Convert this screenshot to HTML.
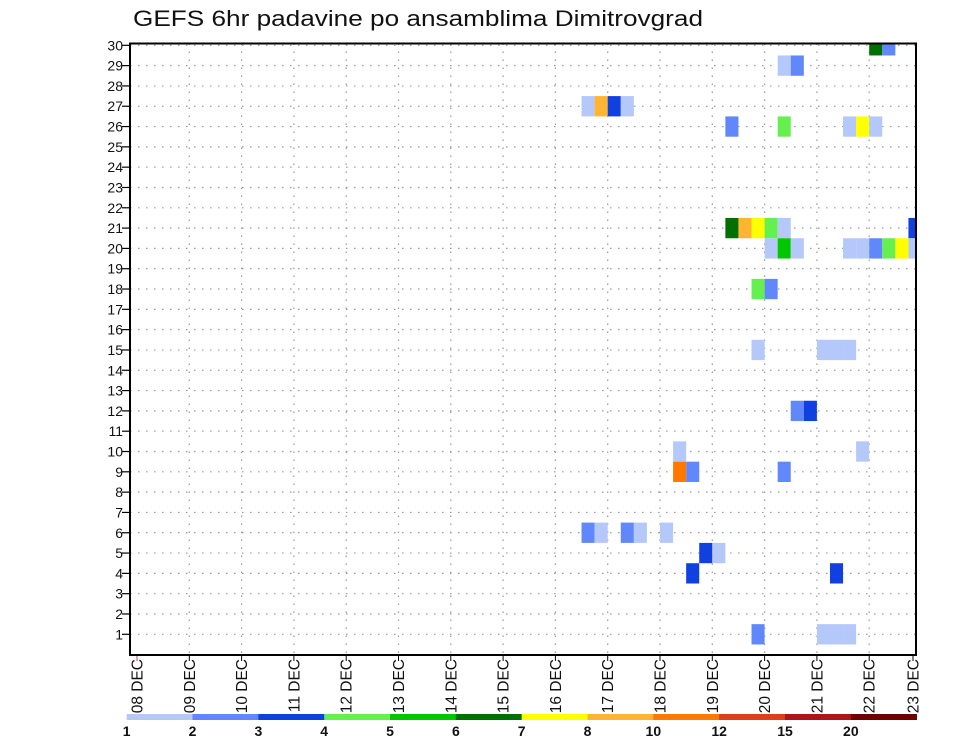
<!DOCTYPE html>
<html><head><meta charset="utf-8"><style>
html,body{margin:0;padding:0;background:#fff;}
svg{display:block;font-family:"Liberation Sans",sans-serif;}
</style></head><body>
<svg id="chart" width="960" height="742" viewBox="0 0 960 742" xmlns="http://www.w3.org/2000/svg">
<text x="133" y="26" font-size="22" textLength="570" lengthAdjust="spacingAndGlyphs" fill="#111">GEFS 6hr padavine po ansamblima Dimitrovgrad</text>
<g id="grid"></g>
<g id="cells"></g>
<g id="axes"></g>
<g id="legend"></g>
</svg>
<script>
const members = [1,2,3,4,5,6,7,8,9,10,11,12,13,14,15,16,17,18,19,20,21,22,23,24,25,26,27,28,29,30];
const dayLabels = ["08 DEC","09 DEC","10 DEC","11 DEC","12 DEC","13 DEC","14 DEC","15 DEC","16 DEC","17 DEC","18 DEC","19 DEC","20 DEC","21 DEC","22 DEC","23 DEC"];
const legendLabels = ["1","2","3","4","5","6","7","8","10","12","15","20"];
const legendColors = ["#b4c8fa","#6088fa","#1040e0","#66f050","#00c800","#007000","#ffff00","#ffb432","#ff7800","#e03c1e","#b01414","#6e0000"];
// cells: member row, 6-hour step index from 08 DEC 00Z, color class (index into legend)
const cellMember = [30,30, 29,29, 27,27,27,27, 26,26,26,26,26, 21,21,21,21,21,21, 20,20,20,20,20,20,20,20,20, 18,18, 15,15,15,15, 12,12, 10,10, 9,9,9, 6,6,6,6,6, 5,5, 4,4, 1,1,1,1];
const cellStep   = [56,57, 49,50, 34,35,36,37, 45,49,54,55,56, 45,46,47,48,49,59, 48,49,50,54,55,56,57,58,59, 47,48, 47,52,53,54, 50,51, 41,55, 41,42,49, 34,35,37,38,40, 43,44, 42,53, 47,52,53,54];
const cellClass  = [5,1, 0,1, 0,7,2,0, 1,3,0,6,0, 5,7,6,3,0,2, 0,4,0,0,0,1,3,6,0, 3,1, 0,0,0,0, 1,2, 0,0, 8,1,1, 1,0,1,0,0, 2,0, 2,2, 1,0,0,0];

const NS="http://www.w3.org/2000/svg";
const L=130,R=916,T=43.5,B=655;
const X0=137, DAYW=52.3;
const xDay=d=>X0+d*DAYW;
const xStep=s=>X0+s*DAYW/4;
const yRow=v=>634.3-(v-1)*20.31;
function mk(tag,attrs,parent){const e=document.createElementNS(NS,tag);for(const k in attrs)e.setAttribute(k,attrs[k]);parent.appendChild(e);return e;}
const grid=document.getElementById('grid'),cells=document.getElementById('cells'),axes=document.getElementById('axes'),legend=document.getElementById('legend');

members.forEach(m=>{
  const y=yRow(m);
  const ln=mk('line',{x1:L,x2:R,y1:y,y2:y,stroke:'#999','stroke-width':1.2,'stroke-dasharray':'1.5 6.5'},grid);
  
  
  const tk=mk('line',{x1:L-8,x2:L,y1:y,y2:y,stroke:'#000','stroke-width':1.2},axes);
  
  
  const t=mk('text',{x:L-7,y:y+5,'text-anchor':'end','font-size':14,fill:'#111'},axes);
  t.textContent=m;
  
  
});
dayLabels.forEach((d,i)=>{
  let x=xDay(i);
  if(x>R) x=R-3;
  if(i>0 && xDay(i)<R){
    const ln=mk('line',{x1:x,x2:x,y1:T,y2:B,stroke:'#999','stroke-width':1.2,'stroke-dasharray':'1.5 6.5'},grid);
    
    
  }
  const tk=mk('line',{x1:x,x2:x,y1:B,y2:B+6,stroke:i==0?'#c44':'#000','stroke-width':1},axes);
  
  
  const t=mk('text',{x:0,y:0,'text-anchor':'end','font-size':15.5,fill:'#111',transform:`translate(${x+5.5},${B+4}) rotate(-90)`},axes);
  t.textContent=d;
  
  
});
cellMember.forEach((m,i)=>{
  const x1=xStep(cellStep[i]), x2=Math.min(xStep(cellStep[i]+1),R);
  const yc=yRow(m); let y1=yc-10.15, y2=yc+10.15;
  if(y1<T) y1=T;
  const r=mk('rect',{x:x1,y:y1,width:x2-x1,height:y2-y1,fill:legendColors[cellClass[i]]},cells);
  
  
});
const fr=mk('rect',{x:L,y:T,width:R-L,height:B-T,fill:'none',stroke:'#000','stroke-width':2},axes);



const LX0=126.7, LW=65.83;
legendColors.forEach((c,i)=>{
  const r=mk('rect',{x:LX0+i*LW,y:714,width:LW+0.3,height:6,fill:c},legend);
  
  
  const t=mk('text',{x:LX0+i*LW,y:736,'text-anchor':'middle','font-size':14,'font-weight':'bold',fill:'#111'},legend);
  t.textContent=legendLabels[i];
  
  
});
</script>
</body></html>
